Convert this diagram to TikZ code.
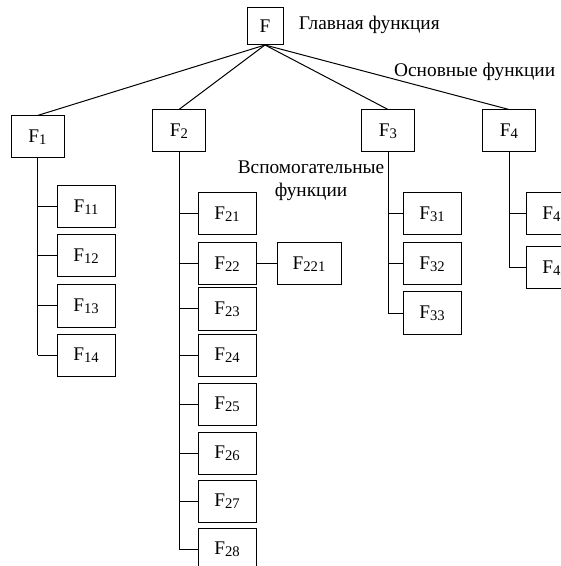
\documentclass[tikz,border=0pt]{standalone}
\usepackage{fontspec}
\setmainfont{Liberation Serif}
\usetikzlibrary{positioning}

\tikzset{
  fbox/.style={draw, line width=0.6pt, minimum height=25.2pt, minimum width=34.8pt, inner sep=0pt},
  topbox/.style={fbox, minimum width=31.8pt},
  link/.style={line width=0.6pt}
}
\newcommand{\fn}[1]{F\raisebox{-1pt}{\fontsize{8.8}{9}\selectfont #1}}

\begin{document}
\begin{tikzpicture}[x=0.6pt, y=-0.6pt]
\useasboundingbox (0,0) rectangle (560,566);
\begin{scope}[font=\fontsize{11.6}{14}\selectfont]
%root
\node[fbox, minimum width=21.6pt, minimum height=22.2pt] (f) at (265,26) {F};
\node[anchor=west] (main) at (293,25) {Главная функция};
\node[anchor=east] (basic) at (561,72) {Основные функции};
\node[align=center] (aux) at (311,181) {Вспомогательные\\функции};

%level 1
\node[topbox] (f1) at (37.5,137) {\fn{1}};
\node[topbox] (f2) at (179,131) {\fn{2}};
\node[topbox] (f3) at (388,131) {\fn{3}};
\node[topbox] (f4) at (509,131) {\fn{4}};
\foreach \i in {1,...,4}
  \draw[link] (f.south) -- (f\i.north);

%level 2
\foreach \i/\y in {1/207, 2/256, 3/306, 4/355} {
  \node[fbox] (f1\i) at (86,\y) {\fn{1\i}};
  \draw[link] (f1.south |- f1\i.west) -- (f1\i.west);
}
\draw[link] (f1.south) -- (f1.south |- f14.west);

\foreach \i/\y in {1/214, 2/264, 3/309, 4/355, 5/404, 6/453, 7/501, 8/549} {
  \node[fbox] (f2\i) at (227,\y) {\fn{2\i}};
  \draw[link] (f2.south |- f2\i.west) -- (f2\i.west);
}
\draw[link] (f2.south) -- (f2.south |- f28.west);

\node[fbox, minimum width=38.4pt] (f221) at (309,264) {\fn{221}};
\draw[link] (f22.east) -- (f221.west);

\foreach \i/\y in {1/214, 2/264, 3/313} {
  \node[fbox] (f3\i) at (432,\y) {\fn{3\i}};
  \draw[link] (f3.south |- f3\i.west) -- (f3\i.west);
}
\draw[link] (f3.south) -- (f3.south |- f33.west);

\foreach \i/\y in {1/214, 2/268} {
  \node[fbox] (f4\i) at (555,\y) {\fn{4\i}};
  \draw[link] (f4.south |- f4\i.west) -- (f4\i.west);
}
\draw[link] (f4.south) -- (f4.south |- f42.west);
\end{scope}
\end{tikzpicture}
\end{document}
